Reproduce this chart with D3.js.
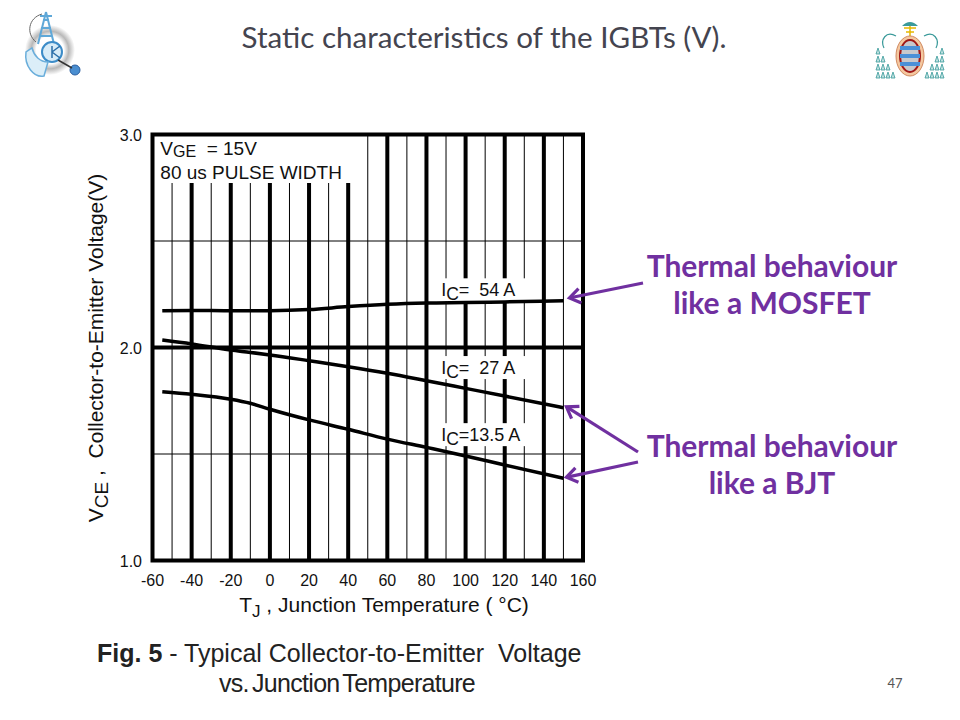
<!DOCTYPE html>
<html><head><meta charset="utf-8">
<script src="https://cdn.jsdelivr.net/npm/d3@7"></script>
<style>body{margin:0;background:#fff}svg{display:block}</style>
</head><body>
<script>
// ---- data ----
const temps   = [-55, -40, -20, -10, 0, 20, 40, 60, 80, 100, 120, 150];
const vce54A  = [2.173, 2.174, 2.173, 2.173, 2.173, 2.178, 2.192, 2.203, 2.209, 2.211, 2.214, 2.219];
const vce27A  = [2.035, 2.017, 1.988, 1.977, 1.965, 1.938, 1.910, 1.879, 1.844, 1.808, 1.772, 1.717];
const vce13A  = [1.792, 1.780, 1.757, 1.738, 1.710, 1.660, 1.616, 1.570, 1.531, 1.491, 1.448, 1.386];
const seriesNames = ["54 A", "27 A", "13.5 A"];
const xTicks = [-60, -40, -20, 0, 20, 40, 60, 80, 100, 120, 140, 160];
const yTicks = [1.0, 2.0, 3.0];
const xMinor = [-50, -30, -10, 10, 30, 50, 70, 90, 110, 130, 150];
const yMinor = [1.5, 2.5];
const labelAt = [2.245, 1.88, 1.565]; // label text positions (V)

const W = 960, H = 720;
const svg = d3.select("body").append("svg").attr("width", W).attr("height", H);

const x = d3.scaleLinear().domain([-60, 160]).range([152.5, 583]);
const y = d3.scaleLinear().domain([1, 3]).range([560.5, 134.5]);
const F = "'Liberation Sans', Arial, sans-serif";

// ---- slide title ----
svg.append("text").attr("x", 484).attr("y", 48).attr("text-anchor", "middle")
  .attr("font-family", "Lato, 'Open Sans', sans-serif").attr("font-size", 29)
  .attr("fill", "#44444f").attr("textLength", 485).attr("lengthAdjust", "spacingAndGlyphs")
  .text("Static characteristics of the IGBTs (V).");

// ---- logos (simplified) ----
const lg = svg.append("g");
const rg = svg.append("defs").append("radialGradient").attr("id", "ring");
rg.append("stop").attr("offset", "55%").attr("stop-color", "#fff");
rg.append("stop").attr("offset", "75%").attr("stop-color", "#b8b8b8");
rg.append("stop").attr("offset", "100%").attr("stop-color", "#fff");
lg.append("circle").attr("cx", 50).attr("cy", 50).attr("r", 25).attr("fill", "url(#ring)");
lg.append("path").attr("d", "M46,12 L38,44 M46,12 L54,44 M40,36 L52,36 M41,28 L51,28 M43,20 L49,20 M40,16 L52,16")
  .attr("stroke", "#5fa8d8").attr("stroke-width", 2).attr("fill", "none");
lg.append("path").attr("d", "M42,14 C28,18 26,34 36,42").attr("stroke", "#666").attr("fill", "none").attr("stroke-width", 1);
lg.append("circle").attr("cx", 52).attr("cy", 52).attr("r", 10).attr("fill", "#d8ecf8").attr("stroke", "#3c8cc8").attr("stroke-width", 2);
lg.append("path").attr("d", "M52,46 L52,58 M52,52 L60,58 M52,52 L60,46").attr("stroke", "#2a6ea8").attr("stroke-width", 1.5);
lg.append("path").attr("d", "M26,52 C24,66 34,78 44,76 L48,62 C40,62 34,56 32,48 Z")
  .attr("fill", "#dbeef8").attr("stroke", "#6aaedb").attr("stroke-width", 1.5);
lg.append("circle").attr("cx", 75).attr("cy", 70).attr("r", 5).attr("fill", "#4a8ed0").attr("stroke", "#2a5ea0");
lg.append("path").attr("d", "M58,60 L72,68").attr("stroke", "#333").attr("stroke-width", 1.5);

const rl = svg.append("g");
const tassel = [];
for (let i = 0; i < 4; i++) for (let j = 0; j <= i; j++) { tassel.push([878 + j * 5, 48 + i * 8]); tassel.push([942 - j * 5, 48 + i * 8]); }
rl.selectAll(".ta").data(tassel).enter().append("path")
  .attr("d", d => `M${d[0]},${d[1]} l-2,6 l4,0 z`).attr("fill", "#bfe0e0").attr("stroke", "#3a9a9a").attr("stroke-width", 0.8);
rl.append("path").attr("d", "M896,36 C886,30 880,40 884,48 M924,36 C934,30 940,40 936,48").attr("stroke", "#3a9a9a").attr("fill", "none").attr("stroke-width", 1.2);
rl.append("path").attr("d", "M902,26 Q910,18 918,26 Z").attr("fill", "#3a9a9a");
rl.append("path").attr("d", "M904,28 L916,28 M910,26 L910,36 M906,32 L914,32").attr("stroke", "#e6b800").attr("stroke-width", 1.5);
rl.append("ellipse").attr("cx", 910).attr("cy", 56).attr("rx", 14).attr("ry", 20).attr("fill", "#f4c8a0").attr("stroke", "#d08a60");
rl.append("ellipse").attr("cx", 910).attr("cy", 56).attr("rx", 10).attr("ry", 16).attr("fill", "#c8c8cc").attr("stroke", "#a01818").attr("stroke-width", 2);
[48, 56, 64].forEach(yy => rl.append("rect").attr("x", 900).attr("y", yy - 2).attr("width", 20).attr("height", 4).attr("fill", "#4a90d8"));

// ---- plot grid ----
const g = svg.append("g");
g.selectAll(".vmin").data(xMinor).enter().append("line")
  .attr("x1", d => x(d)).attr("x2", d => x(d)).attr("y1", y(3)).attr("y2", y(1))
  .attr("stroke", "#000").attr("stroke-width", 1);
g.selectAll(".hmin").data(yMinor).enter().append("line")
  .attr("x1", x(-60)).attr("x2", x(160)).attr("y1", d => y(d)).attr("y2", d => y(d))
  .attr("stroke", "#000").attr("stroke-width", 1);
g.selectAll(".vmaj").data(xTicks.slice(1, -1)).enter().append("line")
  .attr("x1", d => x(d)).attr("x2", d => x(d)).attr("y1", y(3)).attr("y2", y(1))
  .attr("stroke", "#000").attr("stroke-width", 4);
g.append("line").attr("x1", x(-60)).attr("x2", x(160)).attr("y1", y(2)).attr("y2", y(2))
  .attr("stroke", "#000").attr("stroke-width", 4);

// white boxes behind texts
g.append("rect").attr("x", x(-60)).attr("y", y(3)).attr("width", x(41.5) - x(-60)).attr("height", 48.5).attr("fill", "#fff");
labelAt.forEach(v => {
  g.append("rect").attr("x", x(84)).attr("y", y(v) - 17).attr("width", x(130.5) - x(84)).attr("height", 23).attr("fill", "#fff");
});

// border
g.append("rect").attr("x", x(-60)).attr("y", y(3)).attr("width", x(160) - x(-60)).attr("height", y(1) - y(3))
  .attr("fill", "none").attr("stroke", "#000").attr("stroke-width", 4);

// curves
const line = d3.line().x(d => x(d[0])).y(d => y(d[1])).curve(d3.curveMonotoneX);
[vce54A, vce27A, vce13A].forEach(vals => {
  g.append("path").datum(temps.map((t, i) => [t, vals[i]])).attr("d", line)
    .attr("fill", "none").attr("stroke", "#000").attr("stroke-width", 3.5);
});

// in-plot texts
const t1 = g.append("text").attr("x", x(-56)).attr("y", 155).attr("font-family", F).attr("font-size", 19).attr("fill", "#111")
  .attr("xml:space", "preserve");
t1.append("tspan").text("V");
t1.append("tspan").attr("dy", 2).attr("font-size", 16).text("GE");
t1.append("tspan").attr("dy", -2).text("  = 15V");
g.append("text").attr("x", x(-56)).attr("y", 179).attr("font-family", F).attr("font-size", 19).attr("fill", "#111").text("80 us PULSE WIDTH");

const eqs = ["=  ", "=  ", "="];
labelAt.forEach((v, i) => {
  const t = g.append("text").attr("x", x(87.5)).attr("y", y(v) + 0.5).attr("font-family", F).attr("font-size", 18).attr("fill", "#111")
    .attr("xml:space", "preserve");
  t.append("tspan").text("I");
  t.append("tspan").attr("dy", 4).attr("font-size", 17.5).text("C");
  t.append("tspan").attr("dy", -4).text(eqs[i] + seriesNames[i]);
});

// axis tick labels
svg.selectAll(".xt").data(xTicks).enter().append("text")
  .attr("x", d => x(d)).attr("y", 586).attr("text-anchor", "middle")
  .attr("font-family", F).attr("font-size", 16).attr("fill", "#111").text(d => d);
svg.selectAll(".yt").data(yTicks).enter().append("text")
  .attr("x", 142).attr("y", d => y(d) + 6).attr("text-anchor", "end")
  .attr("font-family", F).attr("font-size", 16).attr("fill", "#111").text(d => d.toFixed(1));

// axis titles
const xt = svg.append("text").attr("x", 384).attr("y", 612).attr("text-anchor", "middle")
  .attr("font-family", F).attr("font-size", 21).attr("fill", "#111").attr("xml:space", "preserve");
xt.append("tspan").text("T");
xt.append("tspan").attr("dy", 5).attr("font-size", 17).text("J");
xt.append("tspan").attr("dy", -5).text(" , Junction Temperature ( °C)");

const yt = svg.append("text").attr("transform", "translate(103,348) rotate(-90)").attr("text-anchor", "middle")
  .attr("font-family", F).attr("font-size", 21).attr("fill", "#111").attr("xml:space", "preserve");
yt.append("tspan").text("V");
yt.append("tspan").attr("dy", 5).attr("font-size", 19).text("CE");
yt.append("tspan").attr("dy", -5).text(" ,  Collector-to-Emitter Voltage(V)");

// caption
const c1 = svg.append("text").attr("x", 97).attr("y", 662).attr("font-family", F).attr("font-size", 25).attr("fill", "#222").attr("xml:space", "preserve");
c1.append("tspan").attr("font-weight", "bold").text("Fig. 5");
c1.append("tspan").text(" - Typical Collector-to-Emitter  Voltage");
svg.append("text").attr("x", 347).attr("y", 692).attr("text-anchor", "middle").attr("font-family", F).attr("font-size", 25)
  .attr("fill", "#222").attr("word-spacing", -3).attr("letter-spacing", -0.7).text("vs. Junction Temperature");

// page number
svg.append("text").attr("x", 895).attr("y", 688).attr("text-anchor", "middle").attr("font-family", "Lato, sans-serif")
  .attr("font-size", 13).attr("fill", "#555").text("47");

// annotations
const purple = "#7030A0";
const ann = [["Thermal behaviour", 277], ["like a MOSFET", 314], ["Thermal behaviour", 457], ["like a BJT", 494]];
svg.selectAll(".ann").data(ann).enter().append("text")
  .attr("x", 772).attr("y", d => d[1]).attr("text-anchor", "middle")
  .attr("font-family", "Lato, sans-serif").attr("font-weight", "bold").attr("font-size", 30).attr("fill", purple).text(d => d[0]);

const arrows = [[[643, 283], [x(150) + 6, y(vce54A[vce54A.length - 1]) - 3]],
                [[638, 452], [x(150) + 3, y(vce27A[vce27A.length - 1]) - 1]],
                [[638, 462], [x(150) + 3, y(vce13A[vce13A.length - 1]) - 1]]];
arrows.forEach(([a, b]) => {
  const ang = Math.atan2(a[1] - b[1], a[0] - b[0]);
  const L = 13, sp = 0.6;
  const p1 = [b[0] + L * Math.cos(ang + sp), b[1] + L * Math.sin(ang + sp)];
  const p2 = [b[0] + L * Math.cos(ang - sp), b[1] + L * Math.sin(ang - sp)];
  svg.append("line").attr("x1", a[0]).attr("y1", a[1]).attr("x2", b[0] + 2 * Math.cos(ang)).attr("y2", b[1] + 2 * Math.sin(ang))
    .attr("stroke", purple).attr("stroke-width", 3.2);
  svg.append("path").attr("d", `M${p1[0]},${p1[1]} L${b[0]},${b[1]} L${p2[0]},${p2[1]}`)
    .attr("fill", "none").attr("stroke", purple).attr("stroke-width", 3.2).attr("stroke-linejoin", "miter");
});
</script>
</body></html>
